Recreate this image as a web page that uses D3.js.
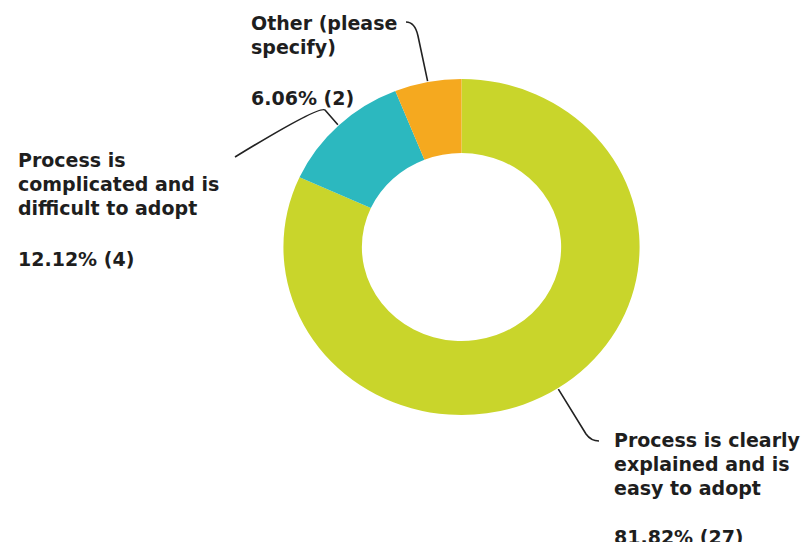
<!DOCTYPE html>
<html>
<head>
<meta charset="utf-8">
<script src="https://cdn.jsdelivr.net/npm/d3@7"></script>
<style>
  html, body { margin: 0; padding: 0; background: #fff; }
  svg { display: block; }
  text { font-family: "DejaVu Sans", sans-serif; font-weight: bold; font-size: 19px; fill: #1e1e1e; }
</style>
</head>
<body>
<svg id="chart" width="807" height="549"></svg>
<script>
// Survey responses (count per answer)
const answers = [
  "Process is clearly explained and is easy to adopt",
  "Process is complicated and is difficult to adopt",
  "Other (please specify)"
];
const counts = [27, 4, 2];
const percentLabels = ["81.82% (27)", "12.12% (4)", "6.06% (2)"];
const sliceColors = ["#c9d52b", "#2cb8bf", "#f5a91f"];

// Label text broken into lines, as set next to each slice
const labelLines = [
  ["Process is clearly", "explained and is", "easy to adopt"],
  ["Process is", "complicated and is", "difficult to adopt"],
  ["Other (please", "specify)"]
];

// Label placement: left x, first baseline, and leader-line route
const labelLayout = [
  { x: 614, y: 447, pctGap: 49, bend: [586, 434], corner: [591, 441], tip: [599, 441] },
  { x: 18,  y: 167, pctGap: 51, bend: [325, 110], corner: [320, 105], tip: [235, 157] },
  { x: 251, y: 30,  pctGap: 51, bend: [418, 36],  corner: [415, 22],  tip: [406, 22] }
];

const lineGap = 24.2;

const svg = d3.select("#chart");
const width = 807, visibleHeight = 542;

// The drawing area ends a little above the bottom of the page
svg.append("clipPath").attr("id", "area")
  .append("rect").attr("width", width).attr("height", visibleHeight);
const root = svg.append("g").attr("clip-path", "url(#area)");

// Donut is slightly wider than tall
const cx = 461.5, cy = 247, outerR = 168, innerR = 94, stretchX = 1.06;

const pie = d3.pie().sort(null).value(d => d)(counts);
const arc = d3.arc().innerRadius(innerR).outerRadius(outerR);

const g = root.append("g").attr("transform", `translate(${cx},${cy}) scale(${stretchX},1)`);
g.selectAll("path.slice")
  .data(pie)
  .join("path")
  .attr("class", "slice")
  .attr("d", arc)
  .attr("fill", (d, i) => sliceColors[i]);

// Leader lines from the outer edge of each slice to its label
pie.forEach((d, i) => {
  const a = (d.startAngle + d.endAngle) / 2;
  const r = outerR + 1;
  const sx = cx + stretchX * r * Math.sin(a), sy = cy - r * Math.cos(a);
  const L = labelLayout[i];
  const p = d3.path();
  p.moveTo(sx, sy);
  p.lineTo(L.bend[0], L.bend[1]);
  p.quadraticCurveTo(L.corner[0], L.corner[1], L.tip[0], L.tip[1]);
  root.append("path")
    .attr("d", p.toString())
    .attr("fill", "none")
    .attr("stroke", "#222")
    .attr("stroke-width", 1.6);
});

// Labels
labelLines.forEach((lines, i) => {
  const L = labelLayout[i];
  const t = root.append("g");
  lines.forEach((s, k) => {
    t.append("text").attr("x", L.x).attr("y", L.y + k * lineGap).text(s);
  });
  t.append("text")
    .attr("x", L.x)
    .attr("y", L.y + (lines.length - 1) * lineGap + L.pctGap)
    .text(percentLabels[i]);
});
</script>
</body>
</html>
